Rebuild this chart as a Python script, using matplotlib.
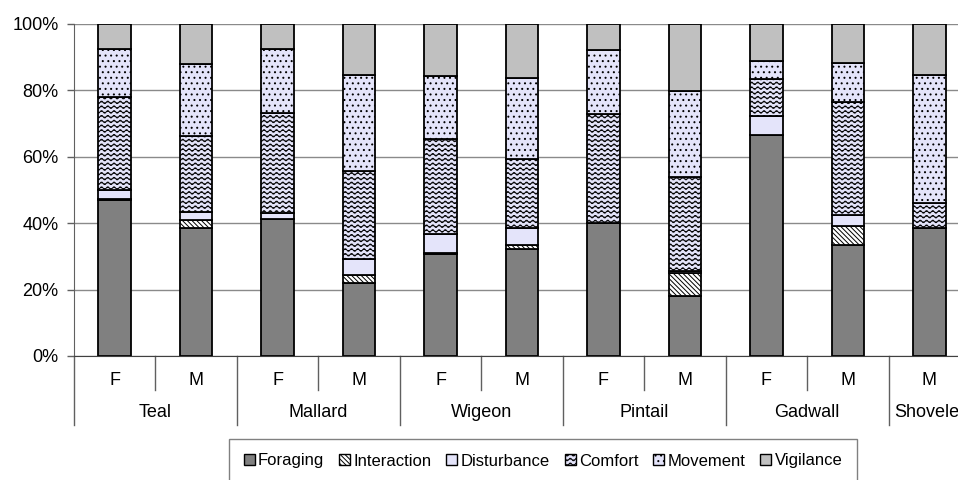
"""time budget of ducks by species and sex, stacked 100% bars
"""
import numpy as np
import matplotlib
matplotlib.use("Agg")
import matplotlib.pyplot as plt
import matplotlib.hatch as mhatch
from matplotlib.path import Path
from matplotlib.patches import Patch

# data (percent of time), bottom to top
species = ['Teal', 'Mallard', 'Wigeon', 'Pintail', 'Gadwall', 'Shoveler']
group_sizes = [2, 2, 2, 2, 2, 1]
sexes = ['F', 'M', 'F', 'M', 'F', 'M', 'F', 'M', 'F', 'M', 'M']

foraging = [47.0, 38.5, 41.2, 22.1, 30.6, 32.3, 40.0, 18.1, 66.6, 33.4, 38.5]
interaction = [0.4, 2.5, 0.0, 2.2, 0.5, 1.1, 0.0, 6.8, 0.0, 5.8, 0.0]
disturbance = [2.6, 2.3, 2.0, 4.8, 5.6, 5.1, 0.0, 0.7, 5.7, 3.4, 0.0]
comfort = [28.1, 23.0, 30.1, 26.7, 28.6, 20.7, 32.8, 28.2, 11.0, 33.8, 7.5]
movement = [14.3, 21.6, 19.1, 28.7, 19.0, 24.4, 19.4, 26.1, 5.6, 11.8, 38.6]
vigilance = [7.6, 12.1, 7.6, 15.5, 15.7, 16.4, 7.8, 20.1, 11.1, 11.8, 15.4]

behaviours = ['Foraging', 'Interaction', 'Disturbance', 'Comfort',
              'Movement', 'Vigilance']
yticks = [0, 20, 40, 60, 80, 100]
ytick_labels = ['0%', '20%', '40%', '60%', '80%', '100%']


# wavy hatch for the "Comfort" series ('~' in the hatch string)
class WaveHatch(mhatch.HatchPatternBase):
    def __init__(self, hatch, density):
        self.num_lines = hatch.count('~') * 7
        self.npts = 16 * 6 + 1
        self.num_vertices = self.num_lines * self.npts

    def set_vertices_and_codes(self, vertices, codes):
        t = np.linspace(0, 1, self.npts)
        step = 1.0 / self.num_lines
        for i in range(self.num_lines):
            sl = slice(i * self.npts, (i + 1) * self.npts)
            vertices[sl, 0] = t
            vertices[sl, 1] = (i + 0.5) * step + 0.28 * step * np.sin(2 * np.pi * 16 * t)
            codes[sl] = Path.LINETO
            codes[i * self.npts] = Path.MOVETO


mhatch._hatch_types.append(WaveHatch)

plt.rcParams['font.family'] = ['Liberation Sans', 'DejaVu Sans']
plt.rcParams['hatch.linewidth'] = 0.7

lav = '#E4E4FA'
styles = {
    'Foraging': dict(color='#808080', hatch=None),
    'Interaction': dict(color='white', hatch='\\' * 7),
    'Disturbance': dict(color=lav, hatch=None),
    'Comfort': dict(color=lav, hatch='~~~'),
    'Movement': dict(color=lav, hatch='...'),
    'Vigilance': dict(color='#C0C0C0', hatch=None),
}

fig = plt.figure(figsize=(9.58, 4.8), dpi=100)
# axes runs past the right edge, like the cropped original
ax = fig.add_axes([74 / 958, 124 / 480, 896 / 958, 332 / 480])

x = np.arange(len(sexes))
series = [foraging, interaction, disturbance, comfort, movement, vigilance]
bottom = np.zeros(len(sexes))
for name, vals in zip(behaviours, series):
    st = styles[name]
    ax.bar(x, vals, 0.4, bottom=bottom, color=st['color'], hatch=st['hatch'],
           edgecolor='black', linewidth=1.3, zorder=3)
    bottom += np.array(vals)

ax.set_xlim(-0.5, len(sexes) - 0.5)
ax.set_ylim(0, 100)
ax.set_yticks(yticks)
ax.set_yticklabels(ytick_labels, fontsize=13)
ax.tick_params(axis='y', length=5, width=1, color='#606060', pad=6)
ax.set_xticks([])
ax.grid(axis='y', color='#8a8a8a', linewidth=1, zorder=0)

for s in ['top', 'right']:
    ax.spines[s].set_visible(False)
ax.spines['left'].set_color('#606060')
ax.spines['bottom'].set_color('#404040')
ax.spines['bottom'].set_zorder(4)

# two-level category axis below the bars
tr = ax.get_xaxis_transform()
for xi, s in zip(x, sexes):
    ax.text(xi, -0.087, s, transform=tr, ha='center', va='baseline', fontsize=13)

start = 0
for name, n in zip(species, group_sizes):
    mid = start + (n - 1) / 2
    ax.text(mid, -0.185, name, transform=tr, ha='center', va='baseline',
            fontsize=13, clip_on=False)
    ax.plot([start - 0.5, start - 0.5], [0, -0.208], transform=tr,
            color='#606060', lw=1, clip_on=False)
    for k in range(1, n):
        ax.plot([start + k - 0.5] * 2, [0, -0.102], transform=tr,
                color='#606060', lw=1, clip_on=False)
    start += n

handles = [Patch(facecolor=styles[b]['color'], hatch=styles[b]['hatch'],
                 edgecolor='black', linewidth=1) for b in behaviours]
leg = fig.legend(handles, behaviours, loc='center', ncol=6,
                 bbox_to_anchor=(543 / 958, 19 / 480), fontsize=12,
                 handlelength=0.65, handleheight=0.65, handletextpad=0.2,
                 columnspacing=0.9, borderpad=0.9, fancybox=False,
                 edgecolor='#808080', framealpha=1)
leg.get_frame().set_linewidth(1)

fig.savefig('out.png', dpi=100)
